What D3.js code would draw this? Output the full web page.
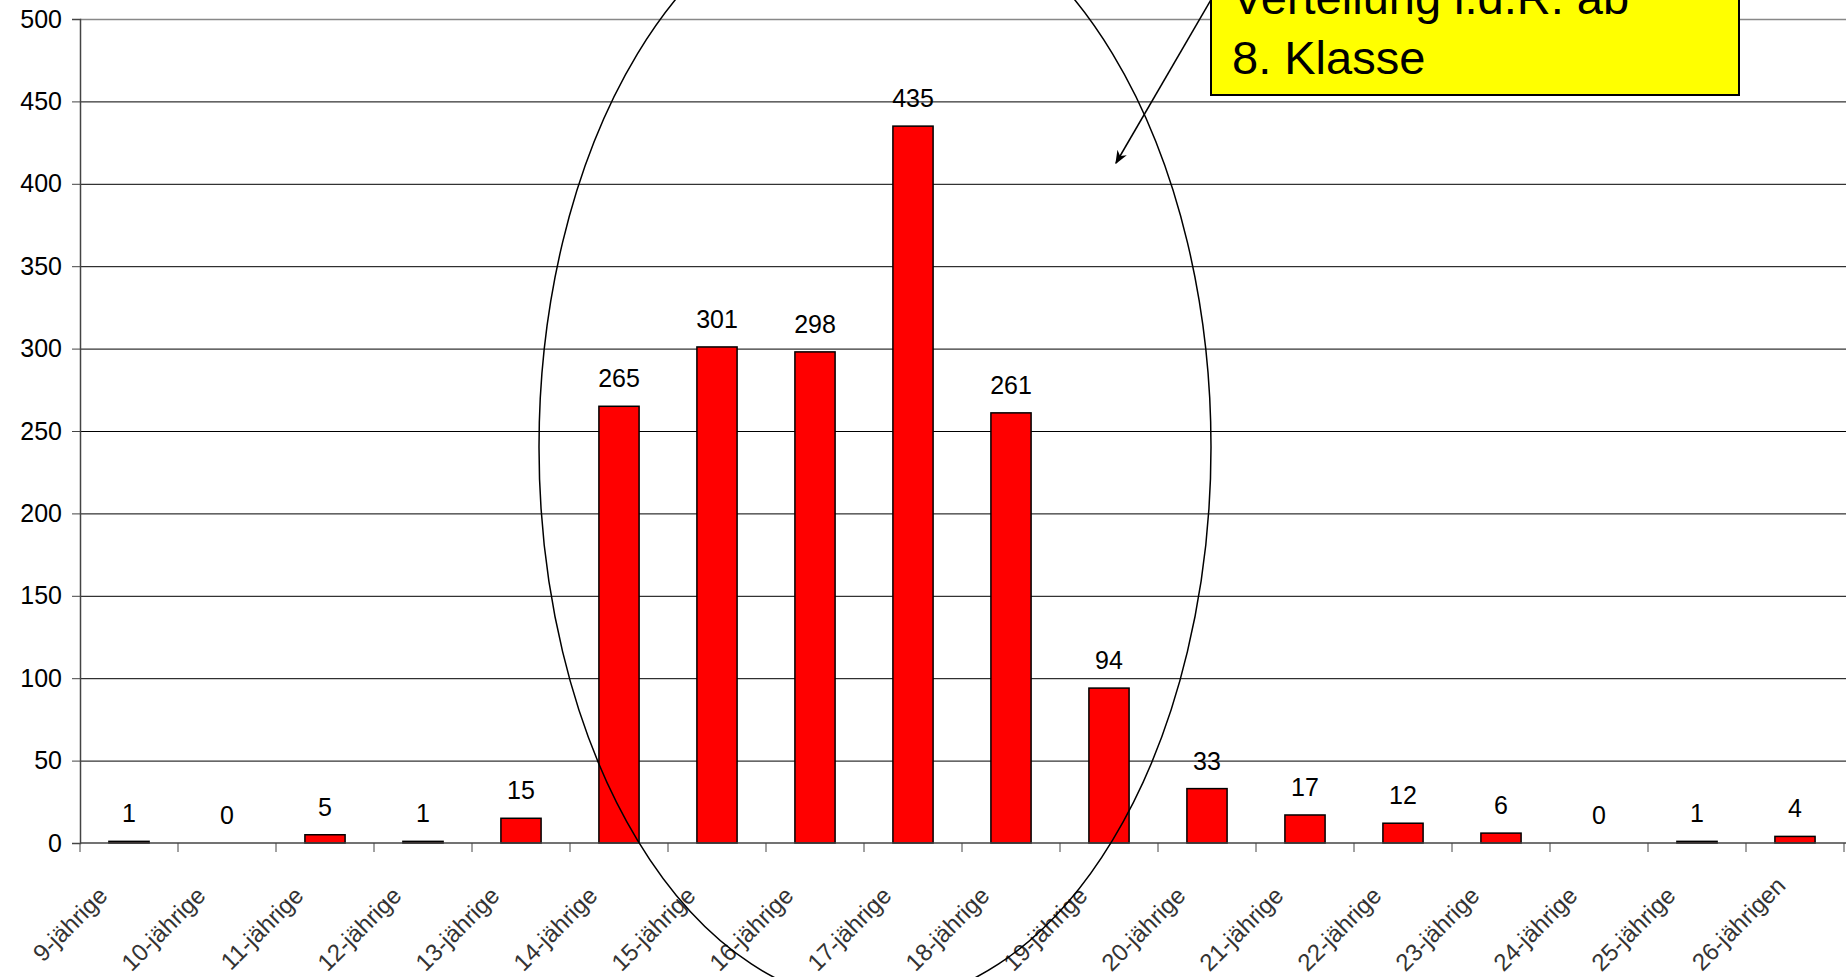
<!DOCTYPE html>
<html>
<head>
<meta charset="utf-8">
<script src="https://cdn.jsdelivr.net/npm/d3@7"></script>
<style>
  body { margin: 0; background: #fff; }
  svg { display: block; font-family: "Liberation Sans", Arial, sans-serif; }
</style>
</head>
<body>
<div id="chart"></div>
<script>
const categories = [
  "9-jährige", "10-jährige", "11-jährige", "12-jährige", "13-jährige", "14-jährige",
  "15-jährige", "16-jährige", "17-jährige", "18-jährige", "19-jährige", "20-jährige",
  "21-jährige", "22-jährige", "23-jährige", "24-jährige", "25-jährige", "26-jährigen"
];
const values = [1, 0, 5, 1, 15, 265, 301, 298, 435, 261, 94, 33, 17, 12, 6, 0, 1, 4];
const yTicks = [0, 50, 100, 150, 200, 250, 300, 350, 400, 450, 500];
const noteLines = ["Verteilung i.d.R. ab", "8. Klasse"];

const width = 1846;
const height = 977;
const margin = { top: 19, left: 80, bottom: 134 };
const step = 98;

const svg = d3.select("#chart")
  .append("svg")
  .attr("width", width)
  .attr("height", height);

const x = d3.scaleBand()
  .domain(categories)
  .range([margin.left, margin.left + step * categories.length])
  .paddingInner(0.59)
  .paddingOuter(0.295);

const y = d3.scaleLinear()
  .domain([0, 500])
  .range([height - margin.bottom, margin.top]);

// gridlines
svg.append("g")
  .selectAll("line")
  .data(yTicks.filter(d => d > 0))
  .join("line")
  .attr("x1", margin.left)
  .attr("x2", width)
  .attr("y1", d => y(d) + 0.5)
  .attr("y2", d => y(d) + 0.5)
  .attr("stroke", d => d === 500 ? "#888" : "#000")
  .attr("stroke-width", d => d === 500 ? 1.5 : 1);

// y axis
const yAxis = d3.axisLeft(y).tickValues(yTicks).tickSize(8).tickPadding(10);
const yAxisGroup = svg.append("g")
  .attr("transform", `translate(${margin.left},0)`)
  .call(yAxis);
yAxisGroup.select(".domain").attr("stroke", "#444").attr("stroke-width", 1.5);
yAxisGroup.selectAll(".tick line").attr("stroke", "#444");
yAxisGroup.selectAll("text")
  .attr("font-size", 25)
  .attr("fill", "#000")
  .attr("font-family", "Liberation Sans, Arial, sans-serif");

// bars
svg.append("g")
  .selectAll("rect")
  .data(values)
  .join("rect")
  .attr("x", (d, i) => x(categories[i]))
  .attr("y", d => y(d))
  .attr("width", x.bandwidth())
  .attr("height", d => y(0) - y(d))
  .attr("fill", "#ff0000")
  .attr("stroke", "#000")
  .attr("stroke-width", d => d === 0 ? 0 : 1.5);

// value labels
svg.append("g")
  .selectAll("text")
  .data(values)
  .join("text")
  .attr("x", (d, i) => x(categories[i]) + x.bandwidth() / 2)
  .attr("y", d => y(d) - 19)
  .attr("text-anchor", "middle")
  .attr("font-size", 25)
  .text(d => d);

// x axis
const xEdges = d3.range(categories.length + 1).map(i => margin.left + i * step);
const xAxisGroup = svg.append("g");
xAxisGroup.append("line")
  .attr("x1", margin.left)
  .attr("x2", width)
  .attr("y1", y(0))
  .attr("y2", y(0))
  .attr("stroke", "#444")
  .attr("stroke-width", 1.5);
xAxisGroup.selectAll(".xtick")
  .data(xEdges)
  .join("line")
  .attr("class", "xtick")
  .attr("x1", d => d)
  .attr("x2", d => d)
  .attr("y1", y(0))
  .attr("y2", y(0) + 9)
  .attr("stroke", "#444");
// the last label sits a bit higher (it is the only one not cut in the original)
const last = categories.length - 1;
xAxisGroup.selectAll("text")
  .data(categories)
  .join("text")
  .attr("transform", (d, i) => {
    const cx = x(d) + x.bandwidth() / 2;
    return i === last
      ? `translate(${cx - 8},${y(0) + 44}) rotate(-45)`
      : `translate(${cx - 20},${y(0) + 54}) rotate(-45)`;
  })
  .attr("text-anchor", "end")
  .attr("font-size", 24)
  .attr("fill", "#333")
  .text(d => d);

// ellipse marking the main range
svg.append("ellipse")
  .attr("cx", 875)
  .attr("cy", 447)
  .attr("rx", 336)
  .attr("ry", 556)
  .attr("fill", "none")
  .attr("stroke", "#000")
  .attr("stroke-width", 1.5);

// note box with arrow
svg.append("defs")
  .append("marker")
  .attr("id", "arrow")
  .attr("viewBox", "0 0 10 10")
  .attr("refX", 9)
  .attr("refY", 5)
  .attr("markerWidth", 9)
  .attr("markerHeight", 9)
  .attr("orient", "auto")
  .append("path")
  .attr("d", "M0,1 L10,5 L0,9 L3,5 Z")
  .attr("fill", "#000");

svg.append("line")
  .attr("x1", 1212)
  .attr("y1", -2)
  .attr("x2", 1116)
  .attr("y2", 163)
  .attr("stroke", "#000")
  .attr("stroke-width", 1.5)
  .attr("marker-end", "url(#arrow)");

svg.append("rect")
  .attr("x", 1211)
  .attr("y", -60)
  .attr("width", 528)
  .attr("height", 155)
  .attr("fill", "#ffff00")
  .attr("stroke", "#000")
  .attr("stroke-width", 2);

svg.append("g")
  .selectAll("text")
  .data(noteLines)
  .join("text")
  .attr("x", 1232)
  .attr("y", (d, i) => 14 + i * 60)
  .attr("font-size", 47)
  .text(d => d);
</script>
</body>
</html>
